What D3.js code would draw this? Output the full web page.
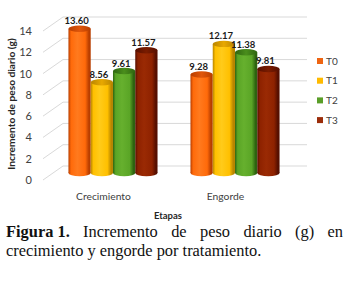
<!DOCTYPE html>
<html>
<head>
<meta charset="utf-8">
<script src="https://cdn.jsdelivr.net/npm/d3@7"></script>
<style>
html,body{margin:0;padding:0;background:#fff;}
svg{display:block;}
</style>
</head>
<body>
<svg id="chart" width="348" height="283"></svg>
<script>
const categories = ["Crecimiento", "Engorde"];
const seriesNames = ["T0", "T1", "T2", "T3"];
const T0 = [13.60, 9.28];
const T1 = [8.56, 12.17];
const T2 = [9.61, 11.38];
const T3 = [11.57, 9.81];
const yTicks = [0, 2, 4, 6, 8, 10, 12, 14];
const yTitle = "Incremento de peso diario (g)";
const xTitle = "Etapas";
const captionBold = "Figura 1.";
const captionLine1 = "Incremento de peso diario (g) en";
const captionLine2 = "crecimiento y engorde por tratamiento.";

const seriesValues = [T0, T1, T2, T3];
const colors = {
  T0: {mid:"#FF6A0A", light:"#FF7A1E", dark:"#B83E00", top:"#E0560A", legend:"#EE6512"},
  T1: {mid:"#FFC000", light:"#FFCB1A", dark:"#B88500", top:"#E8A800", legend:"#FFBA00"},
  T2: {mid:"#5AA526", light:"#66B02E", dark:"#2E6410", top:"#4A8E1C", legend:"#5A9E28"},
  T3: {mid:"#8E2200", light:"#9A2A04", dark:"#560F00", top:"#7A1C00", legend:"#9B2D0A"}
};
const font = "Lato, 'Open Sans', sans-serif";

const svg = d3.select("#chart");
const defs = svg.append("defs");

// scales
const yFront = d3.scaleLinear().domain([0, 14]).range([180, 31]);
const yBack = d3.scaleLinear().domain([0, 14]).range([166, 17]);
const yBar = d3.scaleLinear().domain([0, 14]).range([173, 24.5]);
const x = d3.scaleBand().domain(categories).range([46, 302]).paddingInner(0.27).paddingOuter(0.184);
const xs = d3.scaleBand().domain(seriesNames).range([0, x.bandwidth()]);

// gridlines (side wall diagonal + back wall)
const grid = svg.append("g").attr("stroke", "#D9D9D9").attr("stroke-width", 1).attr("fill", "none");
yTicks.forEach(t => {
  grid.append("path").attr("d", `M43,${yFront(t)} L63,${yBack(t)} L307,${yBack(t)}`);
});

// tick labels
svg.append("g").selectAll("text").data(yTicks).join("text")
  .attr("x", 32).attr("y", d => yFront(d)).attr("dy", "0.36em")
  .attr("text-anchor", "end").attr("font-family", font).attr("font-size", 11).attr("fill", "#404040")
  .text(d => d);

// gradients
seriesNames.forEach(s => {
  const c = colors[s];
  const g = defs.append("linearGradient").attr("id", "g" + s).attr("x1", "0").attr("x2", "1").attr("y1", "0").attr("y2", "0");
  [[0, c.dark], [0.12, c.mid], [0.4, c.light], [0.75, c.mid], [0.92, c.dark], [1, c.dark]].forEach(([o, col]) =>
    g.append("stop").attr("offset", o).attr("stop-color", col));
  const gt = defs.append("linearGradient").attr("id", "t" + s).attr("x1", "0").attr("x2", "1").attr("y1", "0").attr("y2", "0");
  [[0, c.dark], [0.5, c.top], [1, c.dark]].forEach(([o, col]) =>
    gt.append("stop").attr("offset", o).attr("stop-color", col));
});

// bars
const barData = [];
categories.forEach((cat, i) => {
  seriesNames.forEach((s, j) => {
    barData.push({cat, s, v: seriesValues[j][i]});
  });
});
const ry = 3.2;
const bars = svg.append("g");
barData.forEach(d => {
  const bx = x(d.cat) + xs(d.s);
  const bw = xs.bandwidth();
  const cx = bx + bw / 2;
  const g = bars.append("g");
  g.append("ellipse").attr("cx", cx).attr("cy", yBar(0)).attr("rx", bw / 2).attr("ry", ry).attr("fill", `url(#g${d.s})`);
  g.append("rect").attr("x", bx).attr("y", yBar(d.v)).attr("width", bw).attr("height", yBar(0) - yBar(d.v)).attr("fill", `url(#g${d.s})`);
  g.append("ellipse").attr("cx", cx).attr("cy", yBar(d.v)).attr("rx", bw / 2).attr("ry", ry).attr("fill", `url(#t${d.s})`);
});

// data labels
svg.append("g").selectAll("text").data(barData).join("text")
  .attr("x", d => x(d.cat) + xs(d.s) + xs.bandwidth() / 2 - 3)
  .attr("y", d => yBar(d.v) - 4.5)
  .attr("text-anchor", "middle").attr("font-family", font).attr("font-weight", "bold")
  .attr("font-size", 9.5).attr("fill", "#1a1a1a")
  .text(d => d.v.toFixed(2));

// category labels
svg.append("g").selectAll("text").data(categories).join("text")
  .attr("x", d => x(d) + x.bandwidth() / 2 - 9.5).attr("y", 199.5)
  .attr("text-anchor", "middle").attr("font-family", font).attr("font-size", 10.3).attr("fill", "#404040")
  .text(d => d);

// axis titles
svg.append("text").attr("x", 168).attr("y", 218.5).attr("text-anchor", "middle")
  .attr("font-family", font).attr("font-weight", "bold").attr("font-size", 9.5).attr("fill", "#262626").text(xTitle);
svg.append("text").attr("transform", "translate(15,104) rotate(-90)").attr("text-anchor", "middle")
  .attr("font-family", font).attr("font-weight", "bold").attr("font-size", 10.2).attr("fill", "#262626").text(yTitle);

// legend
const leg = svg.append("g");
seriesNames.forEach((s, i) => {
  const cy = 61 + i * 19.7;
  leg.append("rect").attr("x", 317).attr("y", cy - 3).attr("width", 6).attr("height", 6).attr("fill", colors[s].legend);
  leg.append("text").attr("x", 326).attr("y", cy).attr("dy", "0.36em").attr("font-family", font)
    .attr("font-size", 10).attr("fill", "#404040").text(s);
});

// caption (line 1 justified)
const serif = "'Liberation Serif', 'Times New Roman', serif";
const capSize = 16.4;
const left = 6, right = 343;
const line1Words = [{t: captionBold, b: true}].concat(captionLine1.split(" ").map(w => ({t: w, b: false})));
const t1 = svg.append("text").attr("y", 236.5).attr("font-family", serif).attr("font-size", capSize).attr("fill", "#111");
const spans = line1Words.map(w => t1.append("tspan").attr("font-weight", w.b ? "bold" : "normal").text(w.t));
const widths = spans.map(sp => sp.node().getComputedTextLength());
const total = d3.sum(widths);
const gap = (right - left - total) / (spans.length - 1);
let cxp = left;
spans.forEach((sp, i) => { sp.attr("x", cxp); cxp += widths[i] + gap; });
svg.append("text").attr("x", left).attr("y", 256).attr("font-family", serif).attr("font-size", capSize)
  .attr("fill", "#111").text(captionLine2);
</script>
</body>
</html>
